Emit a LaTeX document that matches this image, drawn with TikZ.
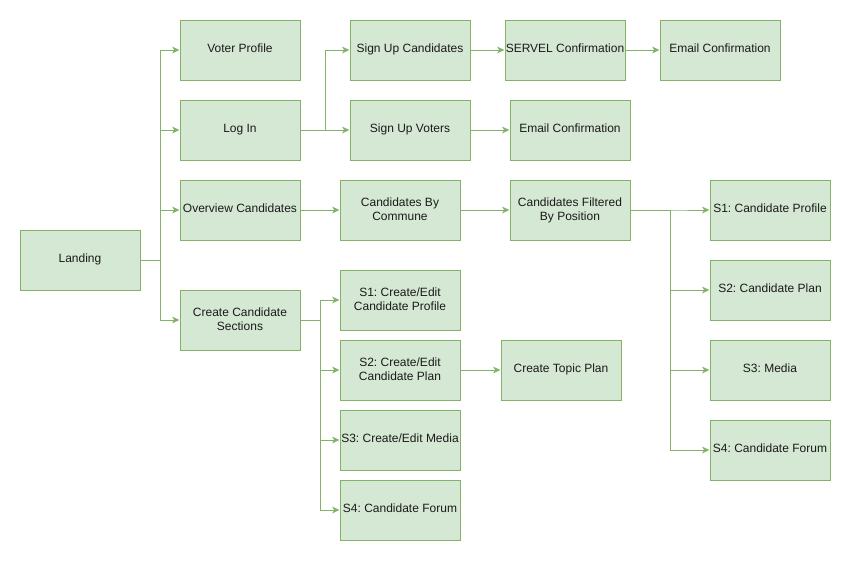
\documentclass[tikz,border=0pt]{standalone}
\usepackage{fontspec}
\setmainfont{Liberation Sans}
\usetikzlibrary{arrows.meta}
\definecolor{boxfill}{HTML}{D5E8D4}
\definecolor{boxline}{HTML}{82B366}
\definecolor{txt}{HTML}{1A1A1A}
\begin{document}
\frenchspacing
\begin{tikzpicture}[x=0.75pt,y=-0.75pt,
  box/.style={draw=boxline,fill=boxfill,line width=0.75pt,minimum width=90pt,minimum height=45pt,
    inner sep=0pt,align=center,font=\fontsize{9pt}{10.5pt}\selectfont\frenchspacing,text=txt,
    text height=6.6pt,text depth=3pt},
  box2/.style={box,text height=,text depth=1.5pt},
  arr/.style={draw=boxline,line width=0.75pt,-{Stealth[length=5.5pt,width=5pt,inset=1.5pt]}}]
\useasboundingbox (0,0) rectangle (851,561);
\node[box] (land) at (80,260) {Landing};
\node[box] (vp) at (240,50) {Voter Profile};
\node[box] (login) at (240,130) {Log In};
\node[box] (ov) at (240,210) {Overview Candidates};
\node[box2] (ccs) at (240,320) {Create Candidate\\Sections};
\node[box] (suc) at (410,50) {Sign Up Candidates};
\node[box] (suv) at (410,130) {Sign Up Voters};
\node[box] (servel) at (565,50) {SERVEL Confirmation};
\node[box] (em1) at (720,50) {Email Confirmation};
\node[box] (em2) at (570,130) {Email Confirmation};
\node[box2] (cbc) at (400,210) {Candidates By\\Commune};
\node[box2] (cfp) at (570,210) {Candidates Filtered\\By Position};
\node[box] (r1) at (770,210) {S1: Candidate Profile};
\node[box] (r2) at (770,290) {S2: Candidate Plan};
\node[box] (r3) at (770,370) {S3: Media};
\node[box] (r4) at (770,450) {S4: Candidate Forum};
\node[box2] (c1) at (400,300) {S1: Create/Edit\\Candidate Profile};
\node[box2] (c2) at (400,370) {S2: Create/Edit\\Candidate Plan};
\node[box] (ctp) at (561,370) {Create Topic Plan};
\node[box] (c3) at (400,440) {S3: Create/Edit Media};
\node[box] (c4) at (400,510) {S4: Candidate Forum};

\foreach \t in {vp,login,ov,ccs} \draw[arr] (land.east) -- ++(20,0) |- (\t.west);
\draw[arr] (login.east) -- ++(25,0) |- (suc.west);
\draw[arr] (login.east) -- (suv.west);
\draw[arr] (suc.east) -- (servel.west);
\draw[arr] (servel.east) -- (em1.west);
\draw[arr] (suv.east) -- (em2.west);
\draw[arr] (ov.east) -- (cbc.west);
\draw[arr] (cbc.east) -- (cfp.west);
\foreach \t in {r1,r2,r3,r4} \draw[arr] (cfp.east) -- ++(40,0) |- (\t.west);
\foreach \t in {c1,c2,c3,c4} \draw[arr] (ccs.east) -- ++(20,0) |- (\t.west);
\draw[arr] (c2.east) -- (ctp.west);
\end{tikzpicture}
\end{document}
